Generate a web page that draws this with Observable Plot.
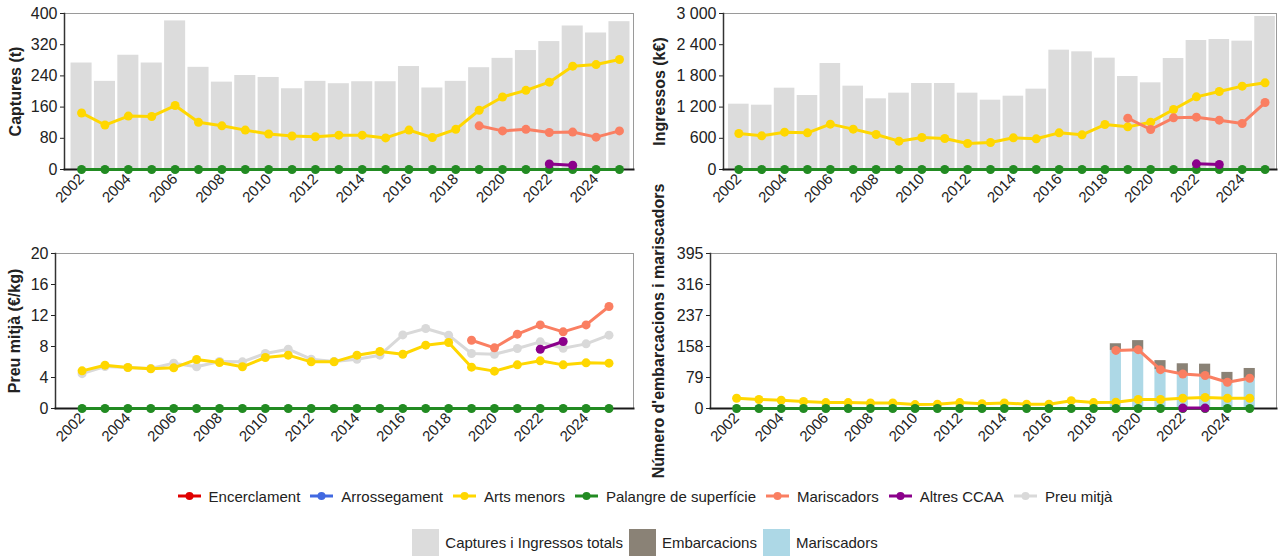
<!DOCTYPE html>
<html><head><meta charset="utf-8">
<script src="https://cdn.jsdelivr.net/npm/d3@7"></script>
<script src="https://cdn.jsdelivr.net/npm/@observablehq/plot@0.6"></script>
<style>
body{margin:0;background:#fff;font-family:"Liberation Sans",Arial,sans-serif;color:#222;}
#wrap{position:relative;width:1284px;height:556px;overflow:hidden;background:#fff;}
.panel{position:absolute;}
.panel svg{overflow:visible;background:transparent;}
g[aria-label="y-axis label"] text{font-weight:bold;}
.legend{position:absolute;left:0;width:1284px;display:flex;justify-content:center;align-items:center;font-size:15px;color:#222;}
.legend .it{display:flex;align-items:center;margin:0 5px;}
.legend .it svg{margin-right:8px;}
.legend .sw{width:27px;height:27px;margin-right:6px;}
#leg2 .it{margin:0 3px;}
</style></head>
<body><div id="wrap">
<div class="panel" id="p1" style="left:0;top:0"></div>
<div class="panel" id="p2" style="left:642px;top:0"></div>
<div class="panel" id="p3" style="left:0;top:240px"></div>
<div class="panel" id="p4" style="left:642px;top:240px"></div>
<div class="legend" id="leg1" style="top:486px;height:20px;padding-left:6px;box-sizing:border-box"></div>
<div class="legend" id="leg2" style="top:529px;height:27px;align-items:flex-start;padding-left:6px;box-sizing:border-box"></div>
</div>
<script>
const years = [2002,2003,2004,2005,2006,2007,2008,2009,2010,2011,2012,2013,2014,2015,2016,2017,2018,2019,2020,2021,2022,2023,2024,2025];
const N = null;
// Captures (t)
const capTotal = [273,226,293,273,381,262,224,241,236,207,226,220,225,225,264,209,226,261,285,305,328,368,350,379];
const capArts = [145,114,137,136,164,121,112,101,91,86,84,88,88,81,101,82,103,152,186,203,224,265,269,282];
const capMarisc = [N,N,N,N,N,N,N,N,N,N,N,N,N,N,N,N,N,112,99,103,95,96,83,99];
const capAltres = [N,N,N,N,N,N,N,N,N,N,N,N,N,N,N,N,N,N,N,N,14,11,N,N];
const capPalangre = [0,0,0,0,0,0,0,0,0,0,0,0,0,0,0,0,0,0,0,0,0,0,0,0];
// Ingressos (k€)
const ingTotal = [1256,1237,1564,1423,2038,1603,1359,1468,1654,1654,1468,1333,1410,1545,2295,2263,2141,1788,1667,2135,2481,2500,2468,2942];
const ingArts = [692,647,718,705,872,776,673,545,615,596,500,519,609,590,705,667,865,820,910,1154,1397,1500,1603,1667];
const ingMarisc = [N,N,N,N,N,N,N,N,N,N,N,N,N,N,N,N,N,987,769,994,1006,949,885,1288];
const ingAltres = [N,N,N,N,N,N,N,N,N,N,N,N,N,N,N,N,N,N,N,N,109,96,N,N];
const ingPalangre = [0,0,0,0,0,0,0,0,0,0,0,0,0,0,0,0,0,0,0,0,0,0,0,0];
// Preu mitjà (€/kg)
const preuMig = [4.5,5.42,5.29,5.16,5.85,5.38,6.06,6.02,7.1,7.65,6.36,6.06,6.36,6.88,9.5,10.32,9.46,7.1,7.0,7.74,8.6,7.78,8.34,9.46];
const preuArts = [4.86,5.59,5.29,5.12,5.25,6.32,5.93,5.38,6.58,6.88,6.02,6.02,6.88,7.35,7.0,8.17,8.51,5.33,4.82,5.63,6.15,5.63,5.89,5.85];
const preuMarisc = [N,N,N,N,N,N,N,N,N,N,N,N,N,N,N,N,N,8.8,7.83,9.59,10.79,9.89,10.79,13.16];
const preuAltres = [N,N,N,N,N,N,N,N,N,N,N,N,N,N,N,N,N,N,N,N,7.65,8.64,N,N];
const preuPalangre = [0,0,0,0,0,0,0,0,0,0,0,0,0,0,0,0,0,0,0,0,0,0,0,0];
// Número d'embarcacions i mariscadors
const numArts = [26,23,21,18,15,15,14,14,10,11,15,12,14,11,11,20,15,16,23,23,26,28,26,26];
const numMarisc = [N,N,N,N,N,N,N,N,N,N,N,N,N,N,N,N,N,148,150,99,88,84,67,77];
const numAltres = [N,N,N,N,N,N,N,N,N,N,N,N,N,N,N,N,N,N,N,N,1,1,N,N];
const numPalangre = [0,0,0,0,0,0,0,0,0,0,0,0,0,0,0,0,0,0,0,0,0,0,0,0];
const barMarisc = [N,N,N,N,N,N,N,N,N,N,N,N,N,N,N,N,N,148,150,99,88,84,67,77];
const barEmb = [N,N,N,N,N,N,N,N,N,N,N,N,N,N,N,N,N,17,23,23,26,29,25,25];

const xTicks = [2002,2004,2006,2008,2010,2012,2014,2016,2018,2020,2022,2024];
const yTicksCap = [0,80,160,240,320,400];
const yTicksIng = [0,600,1200,1800,2400,3000];
const yTicksPreu = [0,4,8,12,16,20];
const yTicksNum = [0,79,158,237,316,395];

const C = {
  enc: "#E00000", arr: "#4169E1", arts: "#FFD700", pal: "#228B22",
  mar: "#FA7F62", alt: "#8B008B", preu: "#D9D9D9",
  total: "#DCDCDC", emb: "#8A8276", marBar: "#ADD8E6"
};
const legend1 = [["Encerclament",C.enc],["Arrossegament",C.arr],["Arts menors",C.arts],["Palangre de superfície",C.pal],["Mariscadors",C.mar],["Altres CCAA",C.alt],["Preu mitjà",C.preu]];
const legend2 = [["Captures i Ingressos totals",C.total],["Embarcacions",C.emb],["Mariscadors",C.marBar]];

const rows = (vals) => years.map((year, i) => ({year, value: vals[i]})).filter(d => d.value != null);
const fmtSpace = d3.formatLocale({decimal: ",", thousands: " ", grouping: [3], currency: ["", ""]}).format(",");

function series(vals, color) {
  const data = rows(vals);
  return [
    Plot.line(data, {x: "year", y: "value", stroke: color, strokeWidth: 3}),
    Plot.dot(data, {x: "year", y: "value", fill: color, r: 4.5})
  ];
}

function panel(o) {
  const marks = [];
  if (o.bars) marks.push(...o.bars);
  marks.push(Plot.frame({stroke: "#9a9a9a", strokeWidth: 1}));
  marks.push(Plot.axisY({ticks: o.yTicks, tickSize: 4, tickPadding: 3, tickFormat: o.yFormat || (d => String(d)),
    label: o.yLabel, labelAnchor: "center", labelArrow: "none", labelOffset: o.labelOffset, fontSize: 16}));
  marks.push(Plot.axisX({ticks: xTicks, tickFormat: d => String(d), tickRotate: -45, tickSize: 4, tickPadding: 3, fontSize: 15, label: null}));
  marks.push(Plot.frame({anchor: "left", stroke: "#333", strokeWidth: 1.5}));
  marks.push(Plot.frame({anchor: "bottom", stroke: "#1a1a1a", strokeWidth: 2}));
  marks.push(...o.lines);
  return Plot.plot({
    width: 642, height: o.height,
    marginLeft: o.ml, marginRight: o.mr, marginTop: o.mt, marginBottom: o.mb,
    x: {type: "linear", domain: o.xDomain},
    y: {domain: o.yDomain},
    style: {fontFamily: "Liberation Sans, Arial, sans-serif", fontSize: "15px", color: "#222", background: "transparent", overflow: "visible"},
    marks
  });
}

const hw = 0.45;
const p1 = panel({
  height: 228, ml: 64, mr: 9, mt: 13, mb: 59,
  xDomain: [2001.27, 2025.6], yDomain: [0, 400], yTicks: yTicksCap,
  yLabel: "Captures (t)", labelOffset: 55,
  bars: [Plot.rectY(rows(capTotal), {x1: d => d.year - hw, x2: d => d.year + hw, y: "value", fill: C.total})],
  lines: [...series(capArts, C.arts), ...series(capPalangre, C.pal), ...series(capMarisc, C.mar), ...series(capAltres, C.alt)]
});
document.getElementById("p1").append(p1);

const p2 = panel({
  height: 228, ml: 81, mr: 8, mt: 13, mb: 59,
  xDomain: [2001.33, 2025.5], yDomain: [0, 3000], yTicks: yTicksIng, yFormat: fmtSpace,
  yLabel: "Ingressos (k€)", labelOffset: 70,
  bars: [Plot.rectY(rows(ingTotal), {x1: d => d.year - hw, x2: d => d.year + hw, y: "value", fill: C.total})],
  lines: [...series(ingArts, C.arts), ...series(ingPalangre, C.pal), ...series(ingMarisc, C.mar), ...series(ingAltres, C.alt)]
});
document.getElementById("p2").append(p2);

const p3 = panel({
  height: 230, ml: 55, mr: 9, mt: 13, mb: 62,
  xDomain: [2000.84, 2026.07], yDomain: [0, 20], yTicks: yTicksPreu,
  yLabel: "Preu mitjà (€/kg)", labelOffset: 47,
  lines: [...series(preuMig, C.preu), ...series(preuArts, C.arts), ...series(preuPalangre, C.pal), ...series(preuMarisc, C.mar), ...series(preuAltres, C.alt)]
});
document.getElementById("p3").append(p3);

const bw = 0.25;
const stackRows = years.map((year, i) => ({year, m: barMarisc[i], e: barEmb[i]})).filter(d => d.m != null);
const p4 = panel({
  height: 230, ml: 68, mr: 8, mt: 13, mb: 62,
  xDomain: [2000.83, 2026.2], yDomain: [0, 395], yTicks: yTicksNum,
  yLabel: "Número d'embarcacions i mariscadors", labelOffset: 58,
  bars: [
    Plot.rectY(stackRows, {x1: d => d.year - bw, x2: d => d.year + bw, y1: 0, y2: "m", fill: C.marBar}),
    Plot.rectY(stackRows, {x1: d => d.year - bw, x2: d => d.year + bw, y1: "m", y2: d => d.m + d.e, fill: C.emb})
  ],
  lines: [...series(numArts, C.arts), ...series(numPalangre, C.pal), ...series(numMarisc, C.mar), ...series(numAltres, C.alt)]
});
document.getElementById("p4").append(p4);

// Legends
const leg1 = document.getElementById("leg1");
for (const [name, color] of legend1) {
  const it = document.createElement("div"); it.className = "it";
  it.innerHTML = `<svg width="23" height="12"><line x1="0" x2="23" y1="6" y2="6" stroke="${color}" stroke-width="3"/><circle cx="11.5" cy="6" r="4" fill="${color}"/></svg><span></span>`;
  it.querySelector("span").textContent = name;
  leg1.append(it);
}
const leg2 = document.getElementById("leg2");
for (const [name, color] of legend2) {
  const it = document.createElement("div"); it.className = "it";
  it.style.alignItems = "center";
  it.innerHTML = `<div class="sw" style="background:${color}"></div><span></span>`;
  it.querySelector("span").textContent = name;
  leg2.append(it);
}
</script>
</body></html>
